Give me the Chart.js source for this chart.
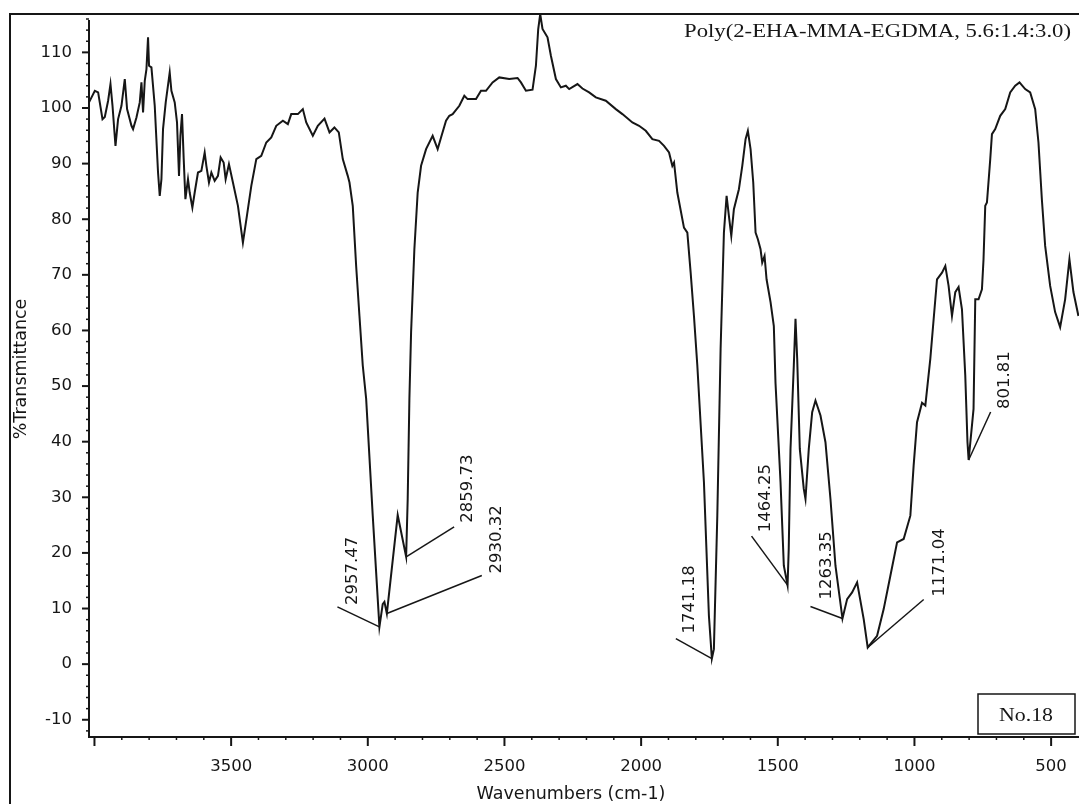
<!DOCTYPE html>
<html>
<head>
<meta charset="utf-8">
<title>FTIR spectrum No.18</title>
<script src="https://cdn.jsdelivr.net/npm/chart.js@4.4.0/dist/chart.umd.min.js"></script>
<style>
  html, body { margin: 0; padding: 0; background: #fff; }
  #wrap { width: 1079px; height: 804px; position: relative; }
</style>
</head>
<body>
<div id="wrap"><canvas id="irChart"></canvas></div>
<script>
// spectrum (wavenumber in cm-1, %T)
const wavenumbers = [
  4020, 3998.7, 3986.6, 3970.6, 3962.2, 3950.1, 3941.4, 3934, 3923.1, 3913.6,
  3901.2, 3889.1, 3880.7, 3864.6, 3858.8, 3846.4, 3834.3, 3828.1, 3822.2, 3816,
  3809.8, 3804, 3800.3, 3791.6, 3779.5, 3767.4, 3761.2, 3755, 3749.2, 3739.3,
  3724.7, 3718.5, 3706.4, 3698, 3690.7, 3685.6, 3679.7, 3673.5, 3667.3, 3657.8,
  3651.6, 3641.8, 3633.3, 3621.3, 3608.9, 3596.8, 3590.6, 3581.1, 3572.3, 3560.3,
  3548.2, 3538.4, 3527.4, 3520.1, 3508, 3493.4, 3475.1, 3456.9, 3442.3, 3426.2,
  3407.9, 3389.7, 3371.4, 3353.1, 3334.9, 3310.7, 3292.5, 3280.1, 3255.9, 3237.7,
  3225.2, 3201.1, 3182.9, 3158.4, 3140.1, 3122.2, 3106.1, 3091.5, 3073.3, 3067,
  3055, 3042.6, 3030.5, 3018.4, 3006, 2981.9, 2963.6, 2957.47, 2945.4, 2939.2,
  2930.32, 2890.6, 2859.73, 2854, 2847.8, 2841.6, 2829.6, 2817.5, 2805.1, 2786.8,
  2762.7, 2744.4, 2732, 2713.8, 2701.7, 2689.6, 2665.1, 2646.9, 2634.8, 2604.1,
  2585.9, 2567.6, 2543.5, 2519, 2482.5, 2452.1, 2439.7, 2421.5, 2397.3, 2384.9,
  2376.5, 2369.2, 2360.8, 2342.5, 2330.1, 2311.8, 2293.6, 2275.3, 2263.2, 2232.9,
  2214.7, 2190.2, 2165.7, 2129.2, 2092.6, 2068.5, 2032, 2007.5, 1983, 1958.9,
  1934.4, 1916.2, 1897.9, 1885.8, 1879.6, 1867.6, 1843.3, 1830.9, 1818.8, 1806.7,
  1794.4, 1770.2, 1752, 1741.18, 1733.8, 1721.3, 1709.2, 1697.1, 1687.3, 1678.9,
  1670.1, 1660.6, 1642.3, 1629.9, 1617.9, 1609.5, 1599.6, 1589.8, 1581.3, 1572.9,
  1563.1, 1556.9, 1548.4, 1541.1, 1526.5, 1514.5, 1508.3, 1490, 1477.9, 1464.25,
  1460, 1453.5, 1441.4, 1435.2, 1429, 1419.5, 1404.9, 1398.7, 1386.6, 1374.2,
  1362.1, 1343.8, 1325.6, 1307.3, 1289, 1263.35, 1246.3, 1228.1, 1209.8, 1185.7,
  1171.04, 1136.7, 1112.6, 1088.1, 1063.6, 1039.5, 1015, 1003, 990.6, 972.3,
  960.2, 942, 917.5, 899.2, 887.1, 875.1, 862.7, 850.6, 838.6, 826.2,
  814.1, 806, 801.81, 783.8, 777.5, 765.5, 753.1, 747.3, 741, 734.8,
  722.7, 716.5, 704.5, 686.2, 667.9, 649.7, 631.4, 615.7, 594.9, 576.6,
  558.3, 546.3, 533.9, 521.8, 503.5, 485.3, 467, 448.7, 433, 418.4,
  400.1
];
const transmittance = [
  101.0, 103.1, 102.8, 98.0, 98.4, 101.3, 104.3, 100.4, 93.2, 98.0,
  100.4, 105.2, 99.8, 96.8, 96.2, 98.3, 101.0, 104.6, 99.2, 104.9,
  107.0, 112.7, 107.6, 107.3, 100.4, 88.4, 84.2, 87.2, 96.2, 101.0,
  106.4, 103.1, 101.0, 97.4, 87.8, 95.0, 98.9, 90.8, 83.6, 87.2,
  84.8, 82.1, 84.8, 88.4, 88.7, 92.0, 89.6, 86.6, 88.4, 86.9,
  87.8, 91.1, 90.2, 87.2, 89.9, 86.6, 82.4, 75.8, 80.6, 86.0,
  90.8, 91.4, 93.8, 94.7, 96.8, 97.7, 97.1, 98.9, 98.9, 99.8,
  97.4, 95.0, 96.8, 98.1, 95.6, 96.5, 95.6, 90.8, 87.8, 86.6,
  82.4, 71.6, 62.6, 53.7, 47.7, 26.7, 11.7, 6.7, 10.8, 11.2,
  9.1, 26.8, 19.3, 29.7, 47.7, 59.7, 74.6, 84.8, 89.6, 92.6,
  95.0, 92.6, 94.7, 97.7, 98.6, 98.9, 100.4, 102.2, 101.6, 101.6,
  103.1, 103.1, 104.6, 105.5, 105.2, 105.4, 104.6, 103.1, 103.3, 107.6,
  114.2, 116.9, 114.2, 112.7, 109.4, 105.2, 103.7, 104.0, 103.4, 104.3,
  103.5, 102.8, 101.9, 101.3, 99.8, 98.9, 97.4, 96.8, 95.9, 94.4,
  94.1, 93.2, 92.0, 89.6, 90.2, 84.8, 78.5, 77.6, 70.4, 62.6,
  53.7, 32.7, 8.7, 1.0, 2.7, 26.7, 56.7, 77.6, 84.2, 80.6,
  77.0, 81.8, 85.4, 89.6, 94.4, 95.9, 92.6, 86.6, 77.6, 76.4,
  74.6, 72.2, 73.4, 69.2, 65.1, 60.8, 50.5, 32.7, 17.7, 14.2,
  20.7, 38.7, 53.7, 62.1, 54.9, 38.7, 31.5, 29.7, 38.7, 45.3,
  47.4, 44.7, 39.9, 29.7, 17.7, 8.2, 11.7, 12.9, 14.7, 8.1,
  3.0, 5.1, 9.9, 15.9, 21.9, 22.5, 26.7, 35.7, 43.5, 47.0,
  46.5, 54.9, 69.2, 70.4, 71.6, 68.0, 62.6, 66.9, 67.8, 63.8,
  51.9, 39.9, 36.7, 45.9, 65.6, 65.6, 67.4, 72.8, 82.4, 83.0,
  90.8, 95.3, 96.2, 98.6, 99.8, 102.8, 104.0, 104.6, 103.4, 102.8,
  99.8, 93.8, 83.6, 75.2, 68.0, 63.3, 60.6, 65.6, 72.8, 66.9,
  62.6
];

// axis ticks
const xTickValues = [3500, 3000, 2500, 2000, 1500, 1000, 500];
const yTickValues = [-10, 0, 10, 20, 30, 40, 50, 60, 70, 80, 90, 100, 110];

// peak picks printed on the spectrum
const peakLabels = ["2957.47", "2930.32", "2859.73", "1741.18", "1464.25", "1263.35", "1171.04", "801.81"];
const peakWavenumbers = [2957.47, 2930.32, 2859.73, 1741.18, 1464.25, 1263.35, 1171.04, 801.81];
const peakValues = [6.7, 9.1, 19.3, 1.0, 14.2, 8.2, 3.0, 36.7];

// where each leader line starts (relative to the peak) and where its text sits (relative to that start)
const peakCallouts = [
  { dx: -42, dy: -20, tx: 20, ty: -2 },
  { dx: 95, dy: -38, tx: 19, ty: -2 },
  { dx: 48, dy: -30, tx: 18, ty: -4 },
  { dx: -36, dy: -20, tx: 18, ty: -5 },
  { dx: -36, dy: -49, tx: 18, ty: -4 },
  { dx: -32, dy: -12, tx: 21, ty: -7 },
  { dx: 56, dy: -48, tx: 20, ty: -3 },
  { dx: 22, dy: -48, tx: 18, ty: -3 }
];

const ink = "#161616";

// frame, axis lines, tick marks, peak callouts and captions
const spectrumDecor = {
  id: "spectrumDecor",
  afterDraw(chart) {
    const { ctx, chartArea: a } = chart;
    const xs = chart.scales.x;
    const ys = chart.scales.y;
    ctx.save();
    ctx.strokeStyle = ink;
    ctx.fillStyle = ink;

    // page frame (left and top edges)
    ctx.lineWidth = 2;
    ctx.beginPath();
    ctx.moveTo(10, chart.height);
    ctx.lineTo(10, a.top);
    ctx.lineTo(chart.width, a.top);
    ctx.stroke();

    // axis lines
    ctx.beginPath();
    ctx.moveTo(a.left, a.top + 6);
    ctx.lineTo(a.left, a.bottom);
    ctx.lineTo(a.right, a.bottom);
    ctx.stroke();

    // x ticks: major every 500, minor every 100
    for (let w = 500; w <= 4000; w += 100) {
      const px = xs.getPixelForValue(w);
      if (px < a.left || px > a.right) continue;
      const major = w % 500 === 0;
      ctx.lineWidth = major ? 2 : 1.5;
      ctx.beginPath();
      ctx.moveTo(px, a.bottom);
      ctx.lineTo(px, a.bottom + (major ? 9 : 3));
      ctx.stroke();
    }
    // y ticks: major every 10, minor every 2
    for (let v = -12; v <= 116; v += 2) {
      const py = ys.getPixelForValue(v);
      const major = v % 10 === 0;
      ctx.lineWidth = major ? 2 : 1.5;
      ctx.beginPath();
      ctx.moveTo(a.left, py);
      ctx.lineTo(a.left - (major ? 7 : 3), py);
      ctx.stroke();
    }

    // peak callouts
    ctx.font = "16.5px 'DejaVu Sans'";
    ctx.textAlign = "left";
    ctx.textBaseline = "alphabetic";
    peakLabels.forEach((label, i) => {
      const c = peakCallouts[i];
      const px = xs.getPixelForValue(peakWavenumbers[i]);
      const py = ys.getPixelForValue(peakValues[i]);
      const sx = px + c.dx;
      const sy = py + c.dy;
      ctx.lineWidth = 1.5;
      ctx.beginPath();
      ctx.moveTo(sx, sy);
      ctx.lineTo(px, py);
      ctx.stroke();
      ctx.save();
      ctx.translate(sx + c.tx, sy + c.ty);
      ctx.rotate(-Math.PI / 2);
      ctx.fillText(label, 0, 0);
      ctx.restore();
    });

    // axis titles
    ctx.font = "17.5px 'DejaVu Sans'";
    ctx.textAlign = "center";
    ctx.textBaseline = "middle";
    ctx.fillText("Wavenumbers (cm-1)", 571, 794);
    ctx.save();
    ctx.translate(21, 369);
    ctx.rotate(-Math.PI / 2);
    ctx.fillText("%Transmittance", 0, 0);
    ctx.restore();

    // sample caption, serif like the printout
    ctx.font = "18px 'Liberation Serif'";
    ctx.textAlign = "right";
    ctx.textBaseline = "alphabetic";
    const caption = "Poly(2-EHA-MMA-EGDMA, 5.6:1.4:3.0)";
    const capW = ctx.measureText(caption).width;
    ctx.save();
    ctx.translate(1071, 37);
    ctx.scale(387 / capW, 1);
    ctx.fillText(caption, 0, 0);
    ctx.restore();

    // sample number box
    ctx.lineWidth = 1.5;
    ctx.strokeRect(978, 694, 97, 40);
    ctx.font = "19px 'Liberation Serif'";
    ctx.textAlign = "center";
    ctx.save();
    ctx.translate(1026, 721);
    ctx.scale(1.15, 1);
    ctx.fillText("No.18", 0, 0);
    ctx.restore();

    ctx.restore();
  }
};

// keep the plot box fixed: no automatic label padding around the axes
function pinPadding(s) {
  s.paddingLeft = 0;
  s.paddingRight = 0;
  s.paddingTop = 0;
  s.paddingBottom = 0;
}

const ctx = document.getElementById("irChart").getContext("2d");
const irChart = new Chart(ctx, {
  type: "line",
  data: {
    datasets: [
      {
        label: "%T",
        data: wavenumbers.map((w, i) => ({ x: w, y: transmittance[i] })),
        borderColor: ink,
        borderWidth: 2,
        pointRadius: 0,
        tension: 0,
        fill: false,
      },
    ],
  },
  options: {
    responsive: true,
    maintainAspectRatio: false,
    animation: false,
    layout: { padding: { top: 14, left: 0, right: 0, bottom: 0 } },
    plugins: {
      legend: { display: false },
      tooltip: { enabled: false },
    },
    scales: {
      x: {
        type: "linear",
        reverse: true,
        min: 398,
        max: 4020,
        afterBuildTicks: (s) => { s.ticks = xTickValues.map((v) => ({ value: v })); },
        afterFit: (s) => { s.height = 67; pinPadding(s); },
        grid: { display: false, drawTicks: false },
        border: { display: false },
        ticks: {
          autoSkip: false,
          maxRotation: 0,
          padding: 20,
          color: ink,
          font: { family: "DejaVu Sans", size: 16.5 },
          callback: (v) => String(v),
        },
      },
      y: {
        type: "linear",
        min: -13.1,
        max: 116.9,
        afterBuildTicks: (s) => { s.ticks = yTickValues.map((v) => ({ value: v })); },
        afterFit: (s) => { s.width = 89; pinPadding(s); },
        grid: { display: false, drawTicks: false },
        border: { display: false },
        ticks: {
          padding: 17,
          color: ink,
          font: { family: "DejaVu Sans", size: 16.5 },
          callback: (v) => String(v),
        },
      },
    },
  },
  plugins: [spectrumDecor],
});
</script>
</body>
</html>
